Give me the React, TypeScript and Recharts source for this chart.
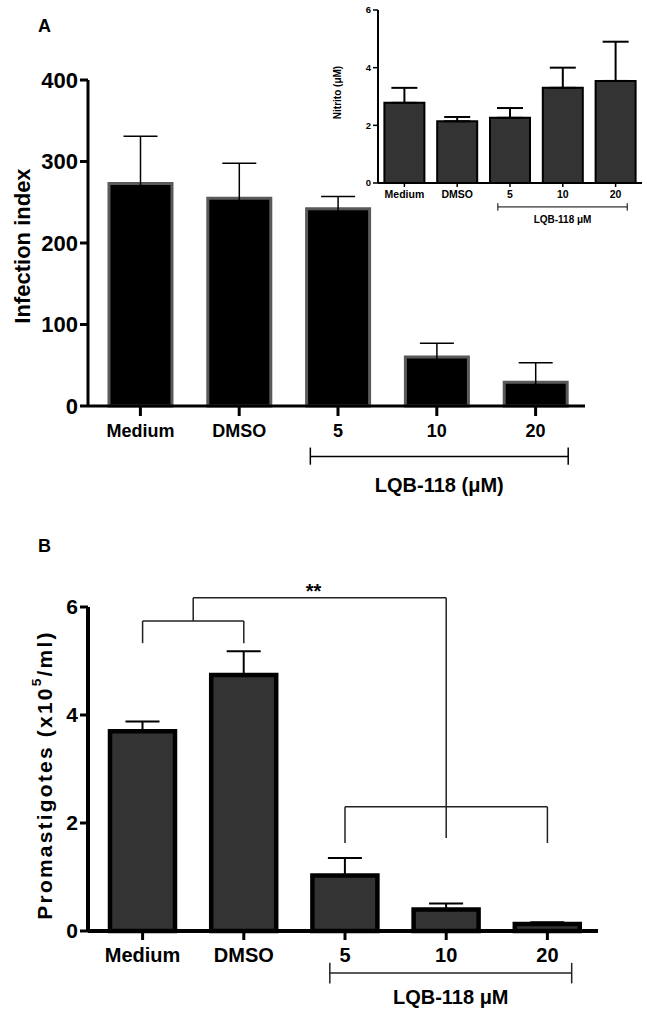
import React from "react";
import { BarChart, Bar, XAxis, YAxis, ErrorBar, ReferenceLine, ReferenceDot, Label } from "recharts";

const FONT = '"Liberation Sans", Arial, Helvetica, sans-serif';

// shared categories
const groups = ["Medium", "DMSO", "5", "10", "20"];

// Panel A – infection index
const infectionMean = [273, 255, 242, 60, 29];
const infectionErr = [58, 43, 15, 17, 24];
const infectionTicks = [0, 100, 200, 300, 400];

// Panel A inset – nitrite
const nitriteMean = [2.78, 2.14, 2.26, 3.3, 3.54];
const nitriteErr = [0.52, 0.15, 0.34, 0.7, 1.36];
const nitriteTicks = [0, 2, 4, 6];

// Panel B – promastigotes
const promaMean = [3.7, 4.74, 1.03, 0.4, 0.13];
const promaErr = [0.18, 0.44, 0.32, 0.11, 0.03];
const promaTicks = [0, 2, 4, 6];

// i = category index, used by the hidden numeric axis for brackets
const infectionData = groups.map((name, i) => ({ name, i, value: infectionMean[i], err: infectionErr[i] }));
const nitriteData = groups.map((name, i) => ({ name, i, value: nitriteMean[i], err: [0, nitriteErr[i]] }));
const promaData = groups.map((name, i) => ({ name, i, value: promaMean[i], err: [0, promaErr[i]] }));

type Seg = [number, number, number, number];

// segments in (category index, value) units, drawn through the hidden numeric x axis
function segLines(segs: Seg[], stroke: string, width: number, prefix: string) {
  return segs.map(([x1, y1, x2, y2], k) => (
    <ReferenceLine
      key={`${prefix}-${k}`}
      xAxisId="n"
      segment={[{ x: x1, y: y1 }, { x: x2, y: y2 }]}
      stroke={stroke}
      strokeWidth={width}
      ifOverflow="visible"
    />
  ));
}

function RotLabel(props: any) {
  const { viewBox, shiftX = 0, shiftY = 0, fs = 20, ls = 0, txt, sup, tail } = props;
  if (!viewBox) return null;
  const cx = viewBox.x + shiftX;
  const cy = viewBox.y + viewBox.height / 2 + shiftY;
  return (
    <text
      x={cx}
      y={cy}
      transform={`rotate(-90 ${cx} ${cy})`}
      textAnchor="middle"
      dominantBaseline="central"
      fontFamily={FONT}
      fontWeight="bold"
      fontSize={fs}
      letterSpacing={ls}
      fill="#000"
    >
      {txt}
      {sup && (
        <tspan fontSize={fs * 0.65} dy={-fs * 0.4}>
          {sup}
        </tspan>
      )}
      {tail && <tspan dy={sup ? fs * 0.4 : 0}>{tail}</tspan>}
    </text>
  );
}

const axisStyle = (w: number) => ({ stroke: "#000", strokeWidth: w });

function InfectionChart() {
  return (
    <BarChart
      width={647}
      height={520}
      data={infectionData}
      margin={{ top: 80, right: 62, bottom: 74, left: 28 }}
      barCategoryGap={18}
    >
      <XAxis
        dataKey="name"
        interval={0}
        height={40}
        padding={{ left: 3, right: 0 }}
        axisLine={axisStyle(3)}
        tickLine={axisStyle(3)}
        tickSize={10}
        tickMargin={8}
        tick={{ fill: "#000", fontSize: 18, fontWeight: "bold", fontFamily: FONT }}
      />
      <XAxis
        xAxisId="n"
        dataKey="i"
        type="number"
        domain={[-0.5, 4.5]}
        allowDataOverflow
        hide
        padding={{ left: 3, right: 0 }}
      />
      <YAxis
        domain={[0, 400]}
        ticks={infectionTicks}
        width={60}
        axisLine={axisStyle(3)}
        tickLine={axisStyle(3)}
        tickSize={8}
        tickMargin={2}
        tick={{ fill: "#000", fontSize: 22, fontWeight: "bold", fontFamily: FONT }}
      >
        <Label content={<RotLabel txt="Infection index" fs={22} shiftX={-6} shiftY={3} />} />
      </YAxis>
      <Bar dataKey="value" fill="#000" stroke="#5a5a5a" strokeWidth={3} isAnimationActive={false}>
        <ErrorBar dataKey="err" width={17} strokeWidth={1.5} stroke="#000" direction="y" isAnimationActive={false} />
      </Bar>
      {segLines(
        [
          [1.72, -51, 1.72, -72],
          [4.33, -51, 4.33, -72],
        ],
        "#000",
        1.5,
        "a"
      )}
      <ReferenceLine
        xAxisId="n"
        segment={[{ x: 1.72, y: -62 }, { x: 4.33, y: -62 }]}
        stroke="#000"
        strokeWidth={1.5}
        ifOverflow="visible"
        label={{ value: "LQB-118 (μM)", position: "bottom", offset: 21, fill: "#000", fontSize: 20, fontWeight: "bold", fontFamily: FONT }}
      />
    </BarChart>
  );
}

function NitriteInset() {
  return (
    <BarChart
      width={317}
      height={235}
      data={nitriteData}
      margin={{ top: 10, right: 5, bottom: 32, left: 18 }}
      barCategoryGap={6.4}
    >
      <XAxis
        dataKey="name"
        interval={0}
        height={20}
        axisLine={axisStyle(2)}
        tickLine={axisStyle(1.5)}
        tickSize={4}
        tickMargin={4}
        tick={{ fill: "#000", fontSize: 10.5, fontWeight: "bold", fontFamily: FONT }}
      />
      <XAxis xAxisId="n" dataKey="i" type="number" domain={[-0.5, 4.5]} allowDataOverflow hide />
      <YAxis
        domain={[0, 6]}
        ticks={nitriteTicks}
        width={30}
        axisLine={axisStyle(2)}
        tickLine={axisStyle(1.5)}
        tickSize={5}
        tickMargin={2}
        tick={{ fill: "#000", fontSize: 9.5, fontWeight: "bold", fontFamily: FONT }}
      >
        <Label content={<RotLabel txt="Nitrito (μM)" fs={10} shiftX={-11} shiftY={-4} />} />
      </YAxis>
      <Bar dataKey="value" fill="#333" stroke="#000" strokeWidth={2} isAnimationActive={false}>
        <ErrorBar dataKey="err" width={13} strokeWidth={2} stroke="#000" direction="y" isAnimationActive={false} />
      </Bar>
      {segLines(
        [
          [1.77, -0.7, 1.77, -0.96],
          [4.22, -0.7, 4.22, -0.96],
        ],
        "#000",
        1,
        "i"
      )}
      <ReferenceLine
        xAxisId="n"
        segment={[{ x: 1.77, y: -0.83 }, { x: 4.22, y: -0.83 }]}
        stroke="#000"
        strokeWidth={1}
        ifOverflow="visible"
        label={{ value: "LQB-118 μM", position: "bottom", offset: 9, fill: "#000", fontSize: 10, fontWeight: "bold", fontFamily: FONT }}
      />
    </BarChart>
  );
}

function PromastigoteChart() {
  return (
    <BarChart
      width={647}
      height={493}
      data={promaData}
      margin={{ top: 87, right: 49, bottom: 42, left: 38 }}
      barCategoryGap={18}
    >
      <XAxis
        dataKey="name"
        interval={0}
        height={40}
        padding={{ left: 4, right: 0 }}
        axisLine={axisStyle(4)}
        tickLine={axisStyle(3)}
        tickSize={9}
        tickMargin={8}
        tick={{ fill: "#000", fontSize: 20, fontWeight: "bold", fontFamily: FONT }}
      />
      <XAxis
        xAxisId="n"
        dataKey="i"
        type="number"
        domain={[-0.5, 4.5]}
        allowDataOverflow
        hide
        padding={{ left: 4, right: 0 }}
      />
      <YAxis
        domain={[0, 6]}
        ticks={promaTicks}
        width={50}
        axisLine={axisStyle(4)}
        tickLine={axisStyle(3)}
        tickSize={8}
        tickMargin={2}
        tick={{ fill: "#000", fontSize: 21, fontWeight: "bold", fontFamily: FONT }}
      >
        <Label
          content={<RotLabel txt="Promastigotes (x10" sup="5" tail="/ml)" fs={21} ls={2.2} shiftX={6} shiftY={6} />}
        />
      </YAxis>
      <Bar dataKey="value" fill="#333" stroke="#000" strokeWidth={4.5} isAnimationActive={false}>
        <ErrorBar dataKey="err" width={17} strokeWidth={2} stroke="#000" direction="y" isAnimationActive={false} />
      </Bar>
      {segLines(
        [
          // control pair bracket
          [0, 5.33, 0, 5.74],
          [0, 5.74, 1, 5.74],
          [1, 5.74, 1, 5.33],
          // joining bracket
          [0.5, 5.74, 0.5, 6.17],
          [0.5, 6.17, 3, 6.17],
          [3, 6.17, 3, 1.72],
          // LQB-118 bracket
          [2, 1.63, 2, 2.3],
          [2, 2.3, 4, 2.3],
          [4, 2.3, 4, 1.63],
          // category bracket under axis
          [1.85, -0.59, 1.85, -0.97],
          [4.24, -0.59, 4.24, -0.97],
        ],
        "#222",
        1.5,
        "b"
      )}
      <ReferenceLine
        xAxisId="n"
        segment={[{ x: 1.85, y: -0.78 }, { x: 4.24, y: -0.78 }]}
        stroke="#222"
        strokeWidth={1.5}
        ifOverflow="visible"
        label={{ value: "LQB-118 μM", position: "bottom", offset: 17, fill: "#000", fontSize: 20, fontWeight: "bold", fontFamily: FONT }}
      />
      <ReferenceDot
        xAxisId="n"
        x={1.69}
        y={6.3}
        r={0}
        fill="none"
        stroke="none"
        ifOverflow="visible"
        label={{ value: "**", position: "center", fill: "#000", fontSize: 20, fontWeight: "bold", fontFamily: FONT }}
      />
    </BarChart>
  );
}

export default function App() {
  return (
    <div style={{ position: "absolute", left: 0, top: 0, width: 647, height: 1013, background: "#fff" }}>
      <div style={{ position: "absolute", left: 0, top: 0 }}>
        <InfectionChart />
      </div>
      <div style={{ position: "absolute", left: 330, top: 0 }}>
        <NitriteInset />
      </div>
      <div style={{ position: "absolute", left: 0, top: 520 }}>
        <PromastigoteChart />
      </div>
      <svg width={647} height={1013} style={{ position: "absolute", left: 0, top: 0, pointerEvents: "none" }}>
        <text x={38} y={32} fontFamily={FONT} fontWeight="bold" fontSize={18} fill="#000">
          A
        </text>
        <text x={38} y={552} fontFamily={FONT} fontWeight="bold" fontSize={18} fill="#000">
          B
        </text>
      </svg>
    </div>
  );
}
